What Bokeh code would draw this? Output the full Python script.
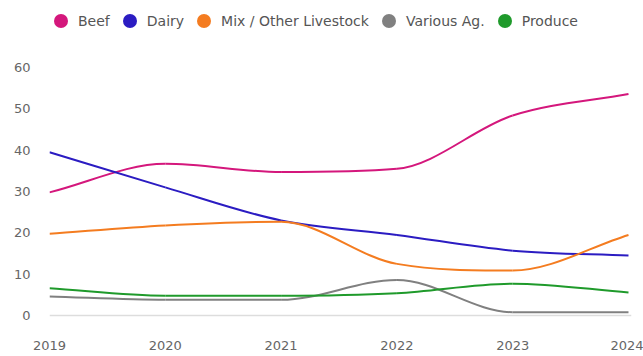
import numpy as np
from bokeh.plotting import figure
from bokeh.models import Legend, LegendItem, FixedTicker, Range1d
from bokeh.embed import file_html
from bokeh.resources import INLINE

years = [2019, 2020, 2021, 2022, 2023, 2024]
beef = [29.8, 36.7, 34.7, 35.5, 48.4, 53.6]
dairy = [39.5, 31.0, 23.0, 19.5, 15.7, 14.5]
mix_other = [19.8, 21.8, 22.7, 12.5, 10.9, 19.5]
various_ag = [4.6, 3.8, 3.8, 8.6, 0.8, 0.8]
produce = [6.6, 4.8, 4.8, 5.4, 7.7, 5.6]

series_names = ["Beef", "Dairy", "Mix / Other Livestock", "Various Ag.", "Produce"]
series_values = [beef, dairy, mix_other, various_ag, produce]
series_colors = ["#d4177c", "#2b1cc2", "#f47c20", "#808080", "#1f9a2b"]
y_ticks = [0, 10, 20, 30, 40, 50, 60]

FONT = "DejaVu Sans"


def monotone_tangents(x, y):
    x = np.asarray(x, float)
    y = np.asarray(y, float)
    n = len(x)
    h = np.diff(x)
    d = np.diff(y) / h
    m = np.zeros(n)
    m[0] = d[0]
    m[-1] = d[-1]
    for k in range(1, n - 1):
        if d[k - 1] * d[k] <= 0:
            m[k] = 0.0
        else:
            m[k] = (d[k - 1] + d[k]) / 2.0
    for k in range(n - 1):
        if d[k] == 0:
            m[k] = 0.0
            m[k + 1] = 0.0
            continue
        a = m[k] / d[k]
        b = m[k + 1] / d[k]
        s = a * a + b * b
        if s > 9:
            t = 3.0 / np.sqrt(s)
            m[k] = t * a * d[k]
            m[k + 1] = t * b * d[k]
    return m


p = figure(width=643, height=356, output_backend="svg", toolbar_location=None,
           x_range=Range1d(2019, 2024.026), y_range=Range1d(-1.2, 75),
           min_border_left=49, min_border_right=12, min_border_top=5,
           min_border_bottom=36)
p.outline_line_color = None
p.background_fill_color = "white"
p.border_fill_color = "white"

items = []
for name, vals, col in zip(series_names, series_values, series_colors):
    x = np.asarray(years, float)
    y = np.asarray(vals, float)
    m = monotone_tangents(x, y)
    h = np.diff(x)
    p.bezier(x0=x[:-1], y0=y[:-1], x1=x[1:], y1=y[1:],
             cx0=x[:-1] + h / 3, cy0=y[:-1] + m[:-1] * h / 3,
             cx1=x[1:] - h / 3, cy1=y[1:] - m[1:] * h / 3,
             line_color=col, line_width=2)
    # invisible points on the plot (size 0); the legend draws them as 14px dots
    r = p.scatter(x=years, y=vals, marker="circle", size=0,
                  fill_color=col, line_color=col, line_width=0)
    items.append(LegendItem(label=name, renderers=[r]))

legend = Legend(items=items, orientation="horizontal", location=(-6, 282),
                glyph_width=35, glyph_height=35, label_standoff=0, spacing=2,
                padding=0, margin=0, border_line_color=None,
                background_fill_alpha=0,
                label_text_font=FONT, label_text_font_size="14px",
                label_text_color="#555555")
p.add_layout(legend, "center")

p.xaxis.ticker = FixedTicker(ticks=years)
p.xaxis.axis_line_color = None
p.xaxis.major_tick_line_color = None
p.xaxis.minor_tick_line_color = None
p.xaxis.major_label_standoff = 14
p.xaxis.major_label_text_font = FONT
p.xaxis.major_label_text_font_size = "13px"
p.xaxis.major_label_text_color = "#666666"

p.yaxis.ticker = FixedTicker(ticks=y_ticks)
p.yaxis.axis_line_color = None
p.yaxis.major_tick_line_color = None
p.yaxis.minor_tick_line_color = None
p.yaxis.major_label_standoff = 13
p.yaxis.major_label_text_font = FONT
p.yaxis.major_label_text_font_size = "13px"
p.yaxis.major_label_text_color = "#666666"

p.xgrid.grid_line_color = None
p.ygrid.ticker = FixedTicker(ticks=[0])
p.ygrid.grid_line_color = "#dddddd"
p.ygrid.grid_line_width = 1.5

open("out.html", "w").write(file_html(p, INLINE))
